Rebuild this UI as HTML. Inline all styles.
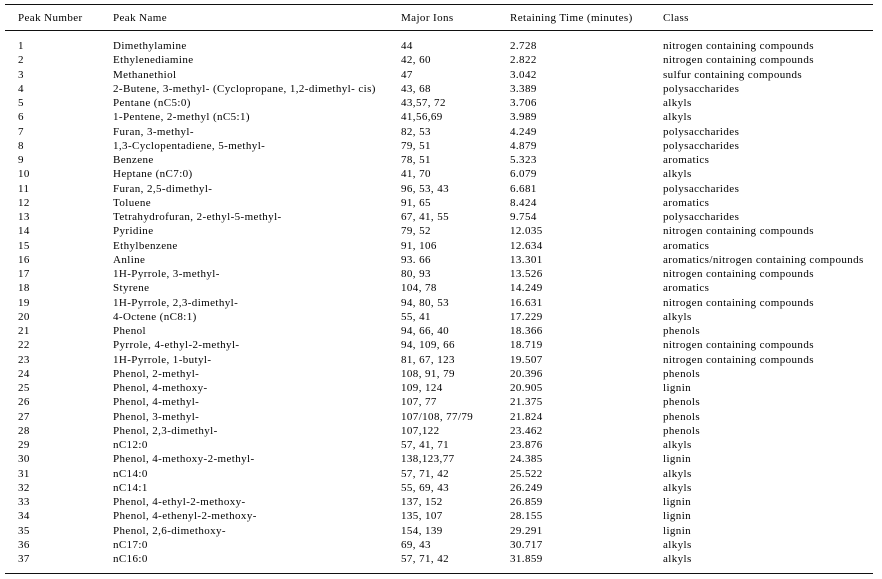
<!DOCTYPE html>
<html><head><meta charset="utf-8"><style>
body{margin:0;width:882px;height:579px;background:#fff;position:relative;font-family:"Liberation Serif",serif;font-size:11px;letter-spacing:0.4px;color:#000;overflow:hidden}
.l{position:absolute;left:5px;width:868px;height:1px;background:#111}
.r{position:absolute;left:0;height:14px;line-height:14px;white-space:nowrap}
.r span{position:absolute;top:0}
.a{left:18px}.b{left:113px}.c{left:401px}.d{left:510px}.e{left:663px}
</style></head><body>
<div class="l" style="top:4px"></div>
<div class="l" style="top:30px"></div>
<div class="l" style="top:573px"></div>
<div class="r" style="top:11px"><span class="a">Peak Number</span><span class="b">Peak Name</span><span class="c">Major Ions</span><span class="d">Retaining Time (minutes)</span><span class="e">Class</span></div>
<div id="t"></div>
<script>
var d=[["1","Dimethylamine","44","2.728","nitrogen containing compounds"],
["2","Ethylenediamine","42, 60","2.822","nitrogen containing compounds"],
["3","Methanethiol","47","3.042","sulfur containing compounds"],
["4","2-Butene, 3-methyl- (Cyclopropane, 1,2-dimethyl- cis)","43, 68","3.389","polysaccharides"],
["5","Pentane (nC5:0)","43,57, 72","3.706","alkyls"],
["6","1-Pentene, 2-methyl (nC5:1)","41,56,69","3.989","alkyls"],
["7","Furan, 3-methyl-","82, 53","4.249","polysaccharides"],
["8","1,3-Cyclopentadiene, 5-methyl-","79, 51","4.879","polysaccharides"],
["9","Benzene","78, 51","5.323","aromatics"],
["10","Heptane (nC7:0)","41, 70","6.079","alkyls"],
["11","Furan, 2,5-dimethyl-","96, 53, 43","6.681","polysaccharides"],
["12","Toluene","91, 65","8.424","aromatics"],
["13","Tetrahydrofuran, 2-ethyl-5-methyl-","67, 41, 55","9.754","polysaccharides"],
["14","Pyridine","79, 52","12.035","nitrogen containing compounds"],
["15","Ethylbenzene","91, 106","12.634","aromatics"],
["16","Anline","93. 66","13.301","aromatics/nitrogen containing compounds"],
["17","1H-Pyrrole, 3-methyl-","80, 93","13.526","nitrogen containing compounds"],
["18","Styrene","104, 78","14.249","aromatics"],
["19","1H-Pyrrole, 2,3-dimethyl-","94, 80, 53","16.631","nitrogen containing compounds"],
["20","4-Octene (nC8:1)","55, 41","17.229","alkyls"],
["21","Phenol","94, 66, 40","18.366","phenols"],
["22","Pyrrole, 4-ethyl-2-methyl-","94, 109, 66","18.719","nitrogen containing compounds"],
["23","1H-Pyrrole, 1-butyl-","81, 67, 123","19.507","nitrogen containing compounds"],
["24","Phenol, 2-methyl-","108, 91, 79","20.396","phenols"],
["25","Phenol, 4-methoxy-","109, 124","20.905","lignin"],
["26","Phenol, 4-methyl-","107, 77","21.375","phenols"],
["27","Phenol, 3-methyl-","107/108, 77/79","21.824","phenols"],
["28","Phenol, 2,3-dimethyl-","107,122","23.462","phenols"],
["29","nC12:0","57, 41, 71","23.876","alkyls"],
["30","Phenol, 4-methoxy-2-methyl-","138,123,77","24.385","lignin"],
["31","nC14:0","57, 71, 42","25.522","alkyls"],
["32","nC14:1","55, 69, 43","26.249","alkyls"],
["33","Phenol, 4-ethyl-2-methoxy-","137, 152","26.859","lignin"],
["34","Phenol, 4-ethenyl-2-methoxy-","135, 107","28.155","lignin"],
["35","Phenol, 2,6-dimethoxy-","154, 139","29.291","lignin"],
["36","nC17:0","69, 43","30.717","alkyls"],
["37","nC16:0","57, 71, 42","31.859","alkyls"]];
var h="",c=["a","b","c","d","e"];
d.forEach(function(r,i){h+='<div class="r" style="top:'+(39+i*14.25).toFixed(2)+'px">';r.forEach(function(v,j){h+='<span class="'+c[j]+'">'+v+'</span>'});h+='</div>'});
document.getElementById("t").innerHTML=h;
</script>
</body></html>
